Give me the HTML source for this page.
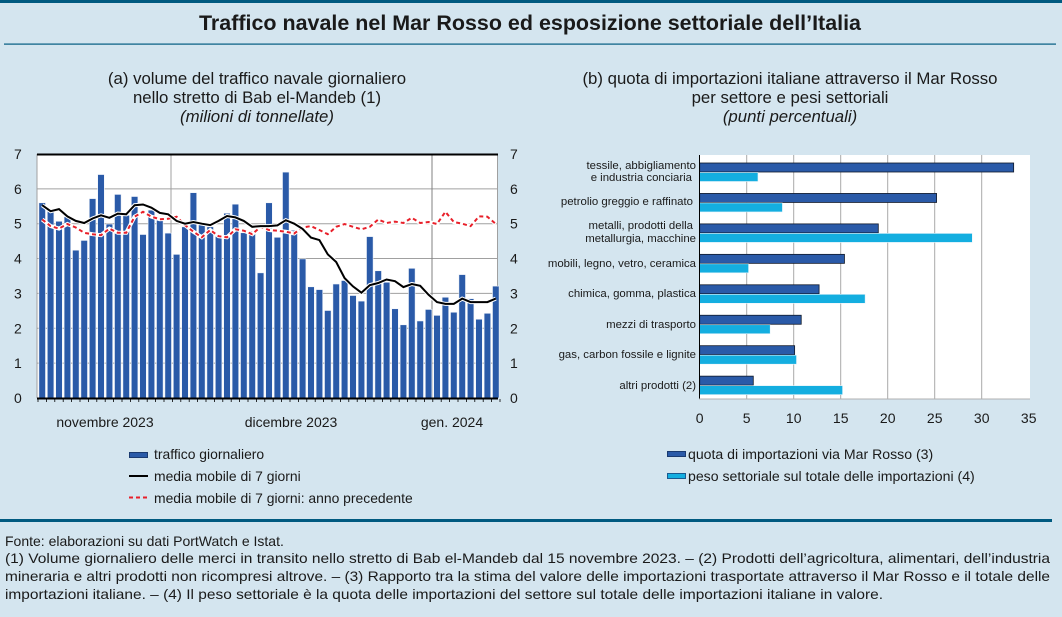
<!DOCTYPE html>
<html><head><meta charset="utf-8"><style>
html,body{margin:0;padding:0;background:#d4e5ef;}
svg{display:block;font-family:"Liberation Sans",Arial,sans-serif;}
</style></head><body>
<svg id="s" width="1062" height="617" viewBox="0 0 1062 617" xmlns="http://www.w3.org/2000/svg">
<rect x="0" y="0" width="1062" height="617" fill="#d4e5ef"/>
<rect x="0" y="0" width="1062" height="3" fill="#005a80"/>
<text x="530" y="30" text-anchor="middle" font-size="21.5" font-weight="bold" fill="#1a1a1a" textLength="662" lengthAdjust="spacingAndGlyphs">Traffico navale nel Mar Rosso ed esposizione settoriale dell’Italia</text>
<rect x="4" y="43.5" width="1052" height="1.2" fill="#005a80"/>

<g font-size="16.8" fill="#1a1a1a" text-anchor="middle">
<text x="257" y="84">(a) volume del traffico navale giornaliero</text>
<text x="257" y="103">nello stretto di Bab el-Mandeb (1)</text>
<text x="257" y="122" font-style="italic">(milioni di tonnellate)</text>
<text x="790" y="84">(b) quota di importazioni italiane attraverso il Mar Rosso</text>
<text x="790" y="103">per settore e pesi settoriali</text>
<text x="790" y="122" font-style="italic">(punti percentuali)</text>
</g>

<rect x="37" y="154" width="461" height="244" fill="#fff"/>
<g id="lgrid" stroke="#a0a0a0" stroke-width="1"></g>
<line x1="171" y1="154" x2="171" y2="398" stroke="#a0a0a0"/>
<line x1="432" y1="154" x2="432" y2="398" stroke="#808080"/>
<line x1="497.5" y1="154" x2="497.5" y2="398" stroke="#a0a0a0"/>
<line x1="37" y1="154" x2="37" y2="398" stroke="#a0a0a0"/>
<g id="bars"></g>
<g id="lines"></g>
<line x1="37" y1="154.5" x2="498" y2="154.5" stroke="#000" stroke-width="2"/>
<line x1="37" y1="398.5" x2="498" y2="398.5" stroke="#000" stroke-width="2"/>
<g id="ticks" stroke="#000" stroke-width="0.8"></g>
<g font-size="14" fill="#1a1a1a" id="ylab"></g>
<g font-size="14" fill="#1a1a1a" text-anchor="middle">
<text x="105" y="427">novembre 2023</text>
<text x="291" y="427">dicembre 2023</text>
<text x="452" y="427">gen. 2024</text>
</g>
<rect x="129.5" y="452.5" width="18" height="5" fill="#2a5aa8" stroke="#1a3a70"/>
<line x1="129" y1="476" x2="148" y2="476" stroke="#000" stroke-width="2"/>
<line x1="129" y1="497.5" x2="148" y2="497.5" stroke="#e8202a" stroke-width="2" stroke-dasharray="4,3"/>
<g font-size="13.9" fill="#1a1a1a">
<text x="154" y="459">traffico giornaliero</text>
<text x="154" y="481">media mobile di 7 giorni</text>
<text x="154" y="503">media mobile di 7 giorni: anno precedente</text>
</g>

<rect x="700" y="155" width="330" height="244" fill="#fff"/>
<g id="rgrid" stroke="#a8a8a8" stroke-width="1"></g>
<g id="rbars"></g>
<line x1="699.5" y1="155" x2="699.5" y2="399" stroke="#000" stroke-width="1"/>
<line x1="699" y1="399" x2="1030" y2="399" stroke="#b0b0b0" stroke-width="1"/>
<g font-size="14" fill="#1a1a1a" text-anchor="middle" id="rx"></g>
<g font-size="11.4" fill="#1a1a1a" text-anchor="end">
<text x="696" y="169">tessile, abbigliamento</text>
<text x="692" y="181">e industria conciaria</text>
<text x="693" y="205">petrolio greggio e raffinato</text>
<text x="693" y="229">metalli, prodotti della</text>
<text x="696" y="242">metallurgia, macchine</text>
<text x="696" y="267">mobili, legno, vetro, ceramica</text>
<text x="696" y="297">chimica, gomma, plastica</text>
<text x="696" y="328">mezzi di trasporto</text>
<text x="696" y="358">gas, carbon fossile e lignite</text>
<text x="696" y="389">altri prodotti (2)</text>
</g>
<rect x="667.5" y="451.5" width="18" height="5" fill="#2a5aa8" stroke="#1a3a70"/>
<rect x="667.5" y="473.5" width="18" height="5" fill="#14aee0" stroke="#1a5a90"/>
<g font-size="14.1" fill="#1a1a1a">
<text x="688" y="459">quota di importazioni via Mar Rosso (3)</text>
<text x="688" y="481">peso settoriale sul totale delle importazioni (4)</text>
</g>

<rect x="0" y="519" width="1052" height="3" fill="#005a80"/>
<g font-size="14" fill="#1a1a1a">
<text x="5" y="546">Fonte: elaborazioni su dati PortWatch e Istat.</text>
<text x="5" y="563" textLength="1045" lengthAdjust="spacingAndGlyphs">(1) Volume giornaliero delle merci in transito nello stretto di Bab el-Mandeb dal 15 novembre 2023. – (2) Prodotti dell’agricoltura, alimentari, dell’industria</text>
<text x="5" y="581" textLength="1045" lengthAdjust="spacingAndGlyphs">mineraria e altri prodotti non ricompresi altrove. – (3) Rapporto tra la stima del valore delle importazioni trasportate attraverso il Mar Rosso e il totale delle</text>
<text x="5" y="599" textLength="878" lengthAdjust="spacingAndGlyphs">importazioni italiane. – (4) Il peso settoriale è la quota delle importazioni del settore sul totale delle importazioni italiane in valore.</text>
</g>
</svg>
<script>
var NS="http://www.w3.org/2000/svg";
function el(p,t,a,txt){var e=document.createElementNS(NS,t);for(var k in a)e.setAttribute(k,a[k]);if(txt!==undefined)e.textContent=txt;document.getElementById(p).appendChild(e);return e;}
var Y0=398,U=34.86;
function yv(v){return Y0-v*U;}
for(var i=1;i<7;i++){el("lgrid","line",{x1:37,x2:498,y1:yv(i),y2:yv(i)});}
for(var i=0;i<=7;i++){el("ylab","text",{x:14,y:yv(i)+5},String(i));el("ylab","text",{x:510,y:yv(i)+5},String(i));}
var bars=[5.6,5.36,5.07,5.2,4.24,4.52,5.72,6.41,4.99,5.84,5.24,5.78,4.69,5.39,5.1,4.73,4.12,4.91,5.89,5.0,4.91,4.64,5.3,5.56,4.74,4.78,3.59,5.6,4.61,6.48,4.81,3.99,3.19,3.11,2.51,3.27,3.37,2.94,2.78,4.63,3.65,3.32,2.56,2.1,3.72,2.21,2.54,2.37,2.89,2.46,3.54,2.85,2.26,2.43,3.21];
var blk=[5.53,5.36,5.42,5.21,5.08,5.02,5.15,5.24,5.17,5.29,5.27,5.53,5.55,5.46,5.31,5.27,5.08,5.0,5.05,5.0,4.96,5.08,5.22,5.18,5.08,4.91,4.93,4.93,4.95,5.1,5.0,4.85,4.6,4.53,4.12,3.9,3.44,3.2,3.02,3.24,3.3,3.4,3.35,3.18,3.27,3.22,2.96,2.75,2.7,2.7,2.85,2.75,2.75,2.75,2.85];
var red=[5.12,4.93,4.86,4.99,4.89,4.74,4.7,4.67,4.86,4.74,4.74,5.2,5.34,5.2,5.13,5.14,5.2,4.96,4.77,4.61,4.82,4.64,4.61,4.84,4.8,4.7,4.91,4.82,4.8,4.77,4.72,4.89,4.93,4.82,4.7,4.91,4.99,4.91,4.84,4.91,5.12,5.02,5.06,5.02,5.17,5.02,5.05,4.99,5.34,5.05,5.0,4.93,5.21,5.2,4.99];
var P=8.4,X0=38;
for(var i=0;i<bars.length;i++){var c=X0+P*(i+0.5);el("bars","rect",{x:c-3.3,y:yv(bars[i]),width:6.6,height:bars[i]*U,fill:"#2a5aa8",stroke:"#f0f4fa","stroke-width":0.6});}
for(var i=0;i<=55;i++){var x=X0+P*i;el("ticks","line",{x1:x,x2:x,y1:399,y2:402});}
function pts(a){return a.map(function(v,i){return (X0+P*(i+0.5)).toFixed(1)+","+yv(v).toFixed(1);}).join(" ");}
el("lines","polyline",{points:pts(red),fill:"none",stroke:"#fff","stroke-width":4});
el("lines","polyline",{points:pts(red),fill:"none",stroke:"#e8202a","stroke-width":2,"stroke-dasharray":"4,3"});
el("lines","polyline",{points:pts(blk),fill:"none",stroke:"#fff","stroke-width":4});
el("lines","polyline",{points:pts(blk),fill:"none",stroke:"#000","stroke-width":2});
var RX0=699.7,RU=9.4;
for(var k=1;k<=6;k++){var x=RX0+RU*5*k;el("rgrid","line",{x1:x,x2:x,y1:155,y2:399});}
for(var k=0;k<=7;k++){el("rx","text",{x:RX0+RU*5*k,y:423},String(5*k));}
var dk=[33.4,25.2,19,15.4,12.7,10.8,10.1,5.7],lt=[6.2,8.8,29,5.2,17.6,7.5,10.3,15.2];
for(var j=0;j<8;j++){var b=172+30.45*j;
el("rbars","rect",{x:RX0,y:b-9,width:dk[j]*RU,height:9,fill:"#2a5aa8",stroke:"#101828","stroke-width":0.8});
el("rbars","rect",{x:RX0,y:b+0.5,width:lt[j]*RU,height:9,fill:"#14aee0",stroke:"#e8f4fa","stroke-width":0.6});}
</script>
</body></html>
